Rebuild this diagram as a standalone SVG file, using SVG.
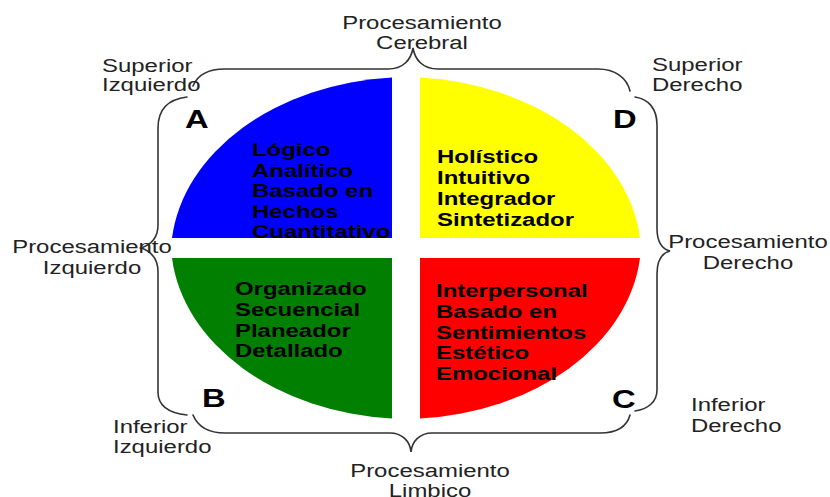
<svg xmlns="http://www.w3.org/2000/svg" width="830" height="497" viewBox="0 0 830 497">
<style>
.lbl{font-family:"Liberation Sans",Arial,sans-serif;font-size:19px;fill:#222}
.q{font-family:"Liberation Sans",Arial,sans-serif;font-size:19px;font-weight:bold;fill:#000}
.let{font-family:"Liberation Sans",Arial,sans-serif;font-size:26px;font-weight:bold;fill:#000}
.mid{text-anchor:middle}
.br{fill:none;stroke:#333;stroke-width:1.6;stroke-linecap:round}
</style>
<rect width="830" height="497" fill="#fff"/>

<g id="quadA">
<path d="M392,77.5 L392,238 L172,238 A239 178 0 0 1 392,77.5 Z" fill="#0000FF"/>
<g transform="translate(185,0) scale(1.26,1)"><text class="let" x="0" y="128">A</text></g>
<g transform="translate(252,0) scale(1.26,1)" class="q">
<text class="q" x="0" y="156">Lógico</text>
<text class="q" x="0" y="176.7">Analítico</text>
<text class="q" x="0" y="197.3">Basado en</text>
<text class="q" x="0" y="218">Hechos</text>
<text class="q" x="0" y="238.5">Cuantitativo</text>
</g>
</g>

<g id="quadD">
<path d="M420,77.5 A239 178 0 0 1 640,238 L420,238 Z" fill="#FFFF00"/>
<g transform="translate(613,0) scale(1.26,1)"><text class="let" x="0" y="128">D</text></g>
<g transform="translate(437,0) scale(1.26,1)">
<text class="q" x="0" y="163.3">Holístico</text>
<text class="q" x="0" y="184.3">Intuitivo</text>
<text class="q" x="0" y="205.2">Integrador</text>
<text class="q" x="0" y="226.1">Sintetizador</text>
</g>
</g>

<g id="quadB">
<path d="M172,258 L392,258 L392,418.5 A239 178 0 0 1 172,258 Z" fill="#007F00"/>
<g transform="translate(202,0) scale(1.26,1)"><text class="let" x="0" y="407">B</text></g>
<g transform="translate(235,0) scale(1.26,1)">
<text class="q" x="0" y="295">Organizado</text>
<text class="q" x="0" y="315.8">Secuencial</text>
<text class="q" x="0" y="336.6">Planeador</text>
<text class="q" x="0" y="357.3">Detallado</text>
</g>
</g>

<g id="quadC">
<path d="M420,258 L640,258 A239 178 0 0 1 420,418.5 Z" fill="#FF0000"/>
<g transform="translate(612,0) scale(1.26,1)"><text class="let" x="0" y="408">C</text></g>
<g transform="translate(436,0) scale(1.26,1)">
<text class="q" x="0" y="297">Interpersonal</text>
<text class="q" x="0" y="317.8">Basado en</text>
<text class="q" x="0" y="338.6">Sentimientos</text>
<text class="q" x="0" y="359.3">Estético</text>
<text class="q" x="0" y="380">Emocional</text>
</g>
</g>

<g id="connectors">
<path class="br" d="M193,86 C197,76 207,69 225,69 L388,69 C403,69 411,60 413,48 C415,60 423,69 438,69 L598,69 C615,69 627,78 630,91"/>
<path class="br" d="M635,97 C648,99 657,108 657,125 L657,228 C657,242 662,249 670,251 C662,253 657,260 657,274 L657,390 C657,402 648,409 635,411"/>
<path class="br" d="M630,415 C627,426 617,433 600,433 L432,433 C420,433 412,441 411,452 C410,441 402,433 390,433 L225,433 C208,433 198,427 193,415"/>
<path class="br" d="M187,97 C170,99 158,108 158,128 L158,225 C158,238 150,245 141,248 C150,251 158,258 158,272 L158,392 C158,405 168,413 187,415"/>
</g>

<g id="lblTop" transform="translate(422,0) scale(1.26,1)">
<text class="lbl mid" x="0" y="29">Procesamiento</text>
<text class="lbl mid" x="0" y="49">Cerebral</text>
</g>
<g id="lblSupIzq" transform="translate(102,0) scale(1.26,1)">
<text class="lbl" x="0" y="72">Superior</text>
<text class="lbl" x="0" y="91">Izquierdo</text>
</g>
<g id="lblSupDer" transform="translate(652,0) scale(1.26,1)">
<text class="lbl" x="0" y="71">Superior</text>
<text class="lbl" x="0" y="91">Derecho</text>
</g>
<g id="lblIzq" transform="translate(92,0) scale(1.26,1)">
<text class="lbl mid" x="0" y="253">Procesamiento</text>
<text class="lbl mid" x="0" y="274">Izquierdo</text>
</g>
<g id="lblDer" transform="translate(748,0) scale(1.26,1)">
<text class="lbl mid" x="0" y="248">Procesamiento</text>
<text class="lbl mid" x="0" y="269">Derecho</text>
</g>
<g id="lblInfIzq" transform="translate(113,0) scale(1.26,1)">
<text class="lbl" x="0" y="433">Inferior</text>
<text class="lbl" x="0" y="453">Izquierdo</text>
</g>
<g id="lblInfDer" transform="translate(691,0) scale(1.26,1)">
<text class="lbl" x="0" y="411">Inferior</text>
<text class="lbl" x="0" y="432">Derecho</text>
</g>
<g id="lblBottom" transform="translate(430,0) scale(1.26,1)">
<text class="lbl mid" x="0" y="477">Procesamiento</text>
<text class="lbl mid" x="0" y="497">Limbico</text>
</g>
</svg>
